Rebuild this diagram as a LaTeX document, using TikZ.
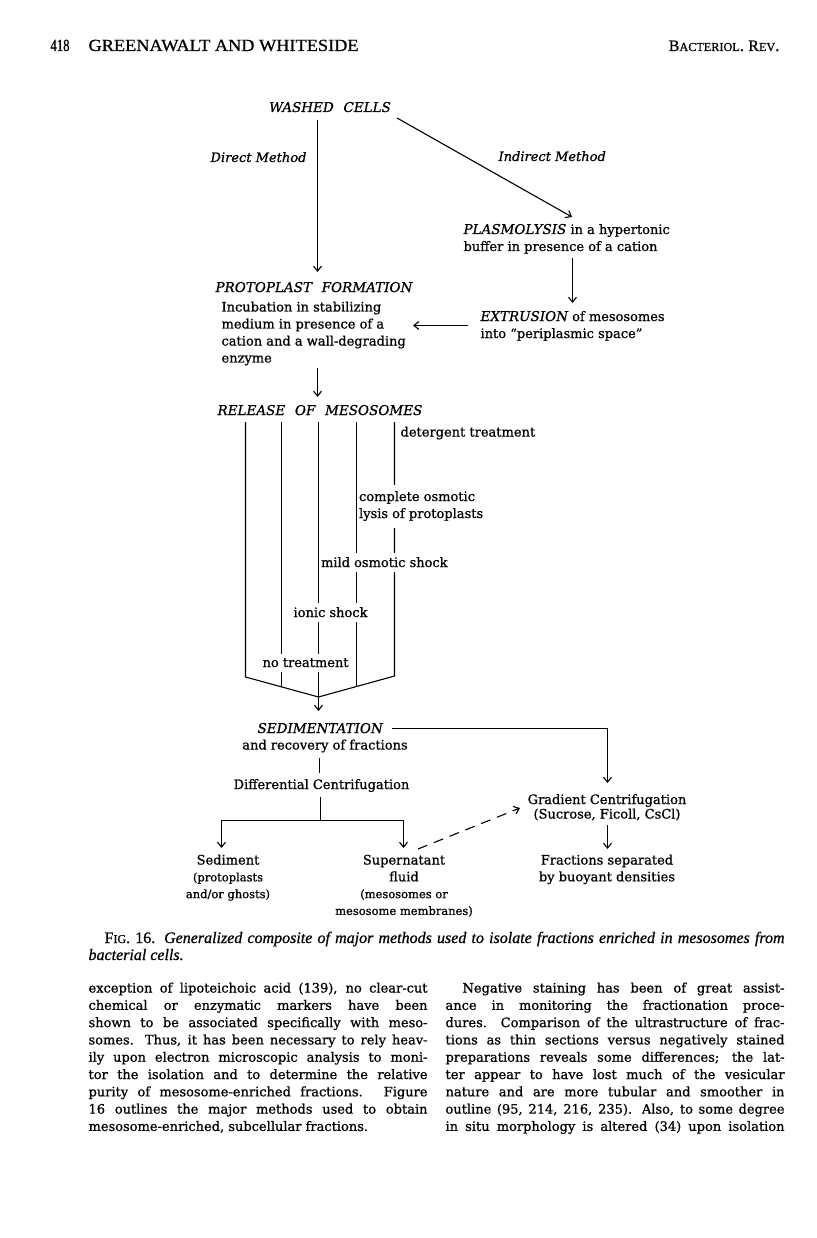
\documentclass[tikz,border=0pt]{standalone}
\usepackage{fontspec}
\usepackage{graphicx}
\setmainfont{DejaVu Serif}[FakeBold=0.8]
\newfontfamily\hdfont{Liberation Serif}[FakeBold=0.8]
\usetikzlibrary{arrows.meta}
\newlength\cw
\setlength\cw{339pt}
\newsavebox\jbox
\newcommand\jline[2][\cw]{\sbox\jbox{#2}\ifdim\wd\jbox>#1\relax\resizebox{#1}{\height}{\usebox\jbox}\else\makebox[#1][s]{#2}\fi}
\newcommand\mlines[2]{\begin{tabular}[t]{@{}#1@{}}#2\end{tabular}}
\newcommand\ws{\hspace{0.72em}}
\newcommand\sm[1]{{\fontsize{11.5}{16.8}\selectfont #1}}
\begin{document}
\begin{tikzpicture}[x=1pt,y=-1pt,line width=1.1pt,
  txt/.style={inner sep=0pt, font=\fontsize{13}{17}\selectfont},
  it/.style={font=\fontsize{13.5}{17}\selectfont\itshape},
  its/.style={font=\fontsize{13}{17}\selectfont\itshape},
  bw/.style={txt, anchor=base west},
  bc/.style={txt, anchor=base},
  be/.style={txt, anchor=base east},
  cut/.style={fill=white, inner xsep=1pt, inner ysep=4.5pt},
  arr/.style={-{Straight Barb[length=5pt,width=8pt]}},
  hd/.style={font=\hdfont\fontsize{17}{20}\selectfont},
  captxt/.style={font=\hdfont\fontsize{16}{18}\selectfont},
  body/.style={font=\fontsize{13}{17.3}\selectfont},
  low/.style={font=\fontsize{13}{16.8}\selectfont}]
\useasboundingbox (0,0) rectangle (816,1238);
\fill[white] (0,0) rectangle (816,1238);

% header
\node[bw,hd] (pg) at (50,51) {\resizebox{19pt}{\height}{418}};
\node[bw,hd] (au) at (88,51) {\resizebox{270pt}{\height}{GREENAWALT AND WHITESIDE}};
\node[be,hd] (jn) at (780,51) {{\fontsize{16}{18}\selectfont B}{\fontsize{12.2}{14}\selectfont ACTERIOL}. {\fontsize{16}{18}\selectfont R}{\fontsize{12.2}{14}\selectfont EV}.};

% top part
\node[bc,it] (wc) at (330,112) {WASHED\ws CELLS};
\node[be,its] (dm) at (307,162) {Direct Method};
\node[bw,its] (im) at (498,161) {Indirect Method};
\node[bw] (pl) at (463,234) {\mlines{l}{{\fontsize{13.5}{17}\selectfont\itshape PLASMOLYSIS} in a hypertonic\\buffer in presence of a cation}};
\node[bw] (ex) at (480,321) {\mlines{l}{{\fontsize{13.5}{17}\selectfont\itshape EXTRUSION} of mesosomes\\into ``periplasmic space''}};
\node[bw,it] (pf) at (215,292) {PROTOPLAST\ws FORMATION};
\node[bw] (inc) at (221,311.5) {\mlines{l}{Incubation in stabilizing\\medium in presence of a\\cation and a wall-degrading\\enzyme}};
\node[bw,it] (rel) at (217,415) {RELEASE\ws OF\ws MESOSOMES};

\coordinate (wcd) at (317.5,120);
\coordinate (pft) at (317.5,272);
\coordinate (wcr) at (397,118);
\coordinate (plt) at (572,217);
\coordinate (plb) at (572.5,258);
\coordinate (ext) at (572.5,303);
\coordinate (exl) at (468,325.5);
\coordinate (incr) at (413,325.5);
\coordinate (incb) at (317.5,368);
\coordinate (relt) at (317.5,397);
\draw[arr] (wcd) -- (pft);
\draw[arr] (wcr) -- (plt);
\draw[arr] (plb) -- (ext);
\draw[arr] (exl) -- (incr);
\draw[arr] (incb) -- (relt);

% treatment lines
\coordinate (t1) at (245.5,422);
\coordinate (t2) at (281.5,422);
\coordinate (t3) at (318.5,422);
\coordinate (t4) at (356.5,422);
\coordinate (t5) at (394.5,422);
\coordinate (b1) at (245.5,677);
\coordinate (apex) at (318.5,697);
\coordinate (b5) at (394.5,676);
\coordinate (b2) at (281.5,686.8);
\coordinate (b4) at (356.5,686.6);
\draw (t1) -- (b1) -- (apex) -- (b5) -- (t5);
\draw (t2) -- (b2);
\draw (t3) -- (apex);
\draw (t4) -- (b4);

\node[bw,cut] (det) at (399,436.5) {detergent treatment};
\node[bw,cut] (col) at (357.5,501) {\mlines{l}{complete osmotic\\lysis of protoplasts}};
\node[bw,cut] (mild) at (319.5,567) {mild osmotic shock};
\node[bw,cut] (ion) at (292,617) {ionic shock};
\node[bw,cut] (none) at (261,667) {no treatment};

% sedimentation
\coordinate (sedt) at (318.5,711);
\draw[arr] (apex) -- (sedt);
\node[bw,it] (sed) at (257,733) {SEDIMENTATION};
\node[bc] (rec) at (325,749.5) {and recovery of fractions};
\node[bc] (dc) at (321.5,789) {Differential Centrifugation};
\node[bc,font=\fontsize{13}{14.5}\selectfont] (gc) at (607,804) {\mlines{c}{Gradient Centrifugation\\(Sucrose, Ficoll, CsCl)}};
\coordinate (sedr) at (392,728.5);
\coordinate (gct) at (607.5,783);
\draw[arr] (sedr) -| (gct);
\coordinate (recb) at (319.5,758);
\coordinate (dct) at (319.5,773);
\draw (recb) -- (dct);
\coordinate (dcb) at (320.5,797);
\coordinate (split) at (320.5,820.5);
\coordinate (sedit) at (221.5,848);
\coordinate (supt) at (403.5,848);
\draw (dcb) -- (split);
\draw[arr] (split) -| (sedit);
\draw[arr] (split) -| (supt);
\coordinate (gcb) at (607.5,825);
\coordinate (frt) at (607.5,849);
\draw[arr] (gcb) -- (frt);
\coordinate (supr) at (418,849);
\coordinate (gcl) at (520,808);
\draw[arr,dash pattern=on 10pt off 7pt] (supr) -- (gcl);

\node[bc,low] (sedi) at (228,864.5) {\mlines{c}{Sediment\\\sm{(protoplasts}\\\sm{and/or ghosts)}}};
\node[bc,low] (sup) at (404,864.5) {\mlines{c}{Supernatant\\fluid\\\sm{(mesosomes or}\\\sm{mesosome membranes)}}};
\node[bc,low] (fr) at (607,864.5) {\mlines{c}{Fractions separated\\by buoyant densities}};

% caption
\node[bw,captxt] (cap1) at (104,943) {\jline[680pt]{F{\fontsize{12}{14}\selectfont IG}. 16. \itshape Generalized composite of major methods used to isolate fractions enriched in mesosomes from}};
\node[bw,captxt] (cap2) at (88,960) {\itshape bacterial cells.};

% body text
\node[bw,body] (lc) at (88,992.5) {\mlines{l}{%
\jline{exception of lipoteichoic acid (139), no clear-cut}\\
\jline{chemical or enzymatic markers have been}\\
\jline{shown to be associated specifically with meso-}\\
\jline{somes. Thus, it has been necessary to rely heav-}\\
\jline{ily upon electron microscopic analysis to moni-}\\
\jline{tor the isolation and to determine the relative}\\
\jline{purity of mesosome-enriched fractions. Figure}\\
\jline{16 outlines the major methods used to obtain}\\
mesosome-enriched, subcellular fractions.}};
\node[bw,body] (rc) at (445,992.5) {\mlines{l}{%
\hspace*{17pt}\jline[322pt]{Negative staining has been of great assist-}\\
\jline{ance in monitoring the fractionation proce-}\\
\jline{dures. Comparison of the ultrastructure of frac-}\\
\jline{tions as thin sections versus negatively stained}\\
\jline{preparations reveals some differences; the lat-}\\
\jline{ter appear to have lost much of the vesicular}\\
\jline{nature and are more tubular and smoother in}\\
\jline{outline (95, 214, 216, 235). Also, to some degree}\\
\jline{in situ morphology is altered (34) upon isolation}}};
\end{tikzpicture}
\end{document}
